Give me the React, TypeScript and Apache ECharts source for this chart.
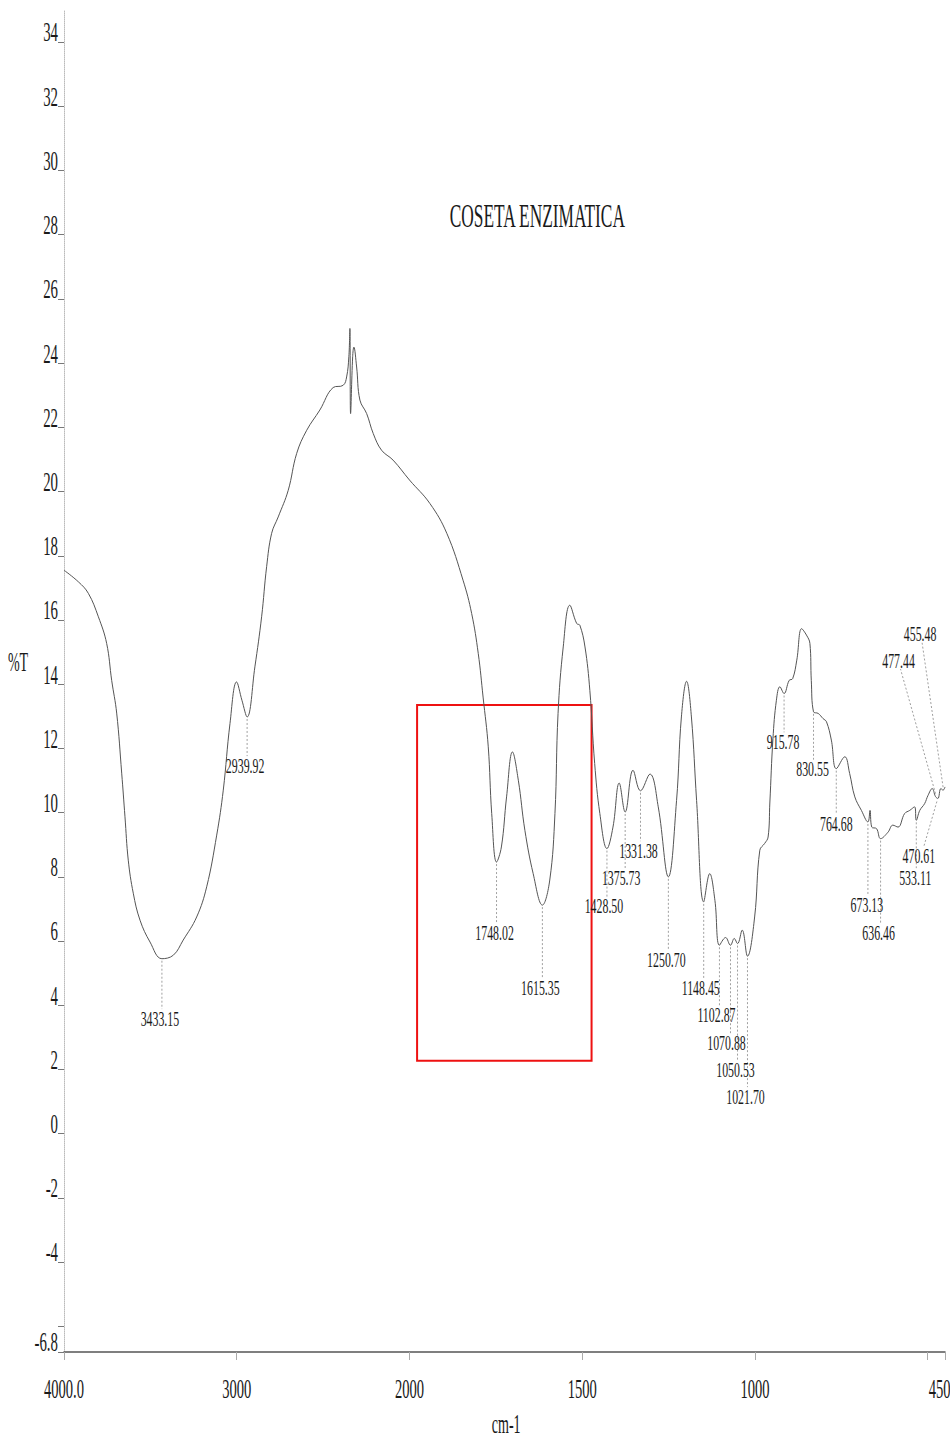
import React, { useEffect, useRef } from "react";
import * as echarts from "echarts";

// ---- spectrum (wavenumber in cm-1, %T) ----
const wavenumbers = [
  4000, 3917, 3859, 3801, 3753, 3724, 3695, 3666, 3647, 3628, 3599, 3560, 3502, 3433.15, 3367, 3310, 3232, 3174,
  3116, 3078, 3039, 3001, 2970, 2939.92, 2895, 2856, 2827, 2798, 2760, 2702, 2653, 2595, 2519, 2442, 2384, 2364,
  2351, 2345, 2341, 2329, 2322, 2306, 2287, 2248, 2210, 2162, 2095, 2000, 1941, 1892, 1845, 1820, 1801, 1787,
  1772, 1762, 1748.02, 1734, 1719, 1702, 1685, 1666, 1642, 1615.35, 1594, 1579, 1570, 1555, 1536, 1516, 1507, 1492,
  1478, 1464, 1449, 1428.5, 1411, 1393, 1375.73, 1353, 1331.38, 1304, 1280, 1250.7, 1227, 1213, 1198, 1184, 1169,
  1148.45, 1131, 1116, 1102.87, 1085, 1070.88, 1060, 1050.53, 1037, 1021.7, 1001, 986, 972, 962, 957, 948, 938, 928,
  915.78, 901, 891, 879, 865, 851, 841, 837, 830.55, 817, 803, 793, 779, 764.68, 740, 726, 711, 692, 673.13, 667,
  662, 648, 636.46, 615, 601, 586, 567, 552, 538, 533.11, 523, 509, 499, 487, 477.44, 470.61, 462, 455.48, 450,
];
const transmittance = [
  17.55, 17.19, 16.83, 16.1, 15.27, 14.12, 13.1, 11.23, 9.87, 8.52, 7.49, 6.65, 5.97, 5.45, 5.56, 6.03, 6.75, 7.69,
  9.3, 10.7, 12.78, 14.07, 13.5, 12.98, 14.54, 16.1, 17.66, 18.7, 19.21, 20.04, 21.19, 21.91, 22.54, 23.24, 23.31, 23.57,
  24.2, 25.08, 22.43, 24.2, 24.5, 23.88, 22.85, 22.43, 21.81, 21.29, 20.98, 20.36, 19.63, 18.7, 17.24, 16.2, 14.96, 13.6,
  12.05, 9.97, 8.46, 8.93, 10.49, 11.89, 11.01, 9.45, 8.1, 7.12, 7.9, 9.97, 13.09, 15.16, 16.46, 15.89, 15.84, 15.16,
  13.81, 11.53, 9.97, 8.88, 9.55, 10.92, 10.02, 11.32, 10.68, 11.2, 10.18, 8.0, 10.38, 12.98, 14.09, 12.98, 10.38,
  7.22, 8.1, 7.27, 5.87, 6.11, 5.87, 6.08, 5.92, 6.34, 5.53, 6.75, 8.83, 9.04, 9.24, 10.3, 12.3, 13.5, 13.92,
  13.71, 14.12, 14.17, 14.75, 15.73, 15.53, 15.27, 14.12, 13.14, 13.09, 12.93, 12.83, 12.26, 11.37, 11.74, 11.22, 10.49, 10.07, 9.71, 10.07,
  9.55, 9.5, 9.19, 9.39, 9.61, 9.55, 9.97, 10.07, 10.18, 9.76, 10.07, 10.28, 10.54, 10.75, 10.5, 10.44, 10.75, 10.7, 10.8,
];

// ---- annotated peaks ----
const peakWavenumbers = [
  3433.15, 2939.92, 1748.02, 1615.35, 1428.5, 1375.73, 1331.38, 1250.7, 1148.45, 1102.87, 1070.88, 1050.53, 1021.7,
  915.78, 830.55, 764.68, 673.13, 636.46, 533.11, 470.61, 477.44, 455.48,
];
// label level (in %T) where each peak label sits
const peakLabelLevels = [
  3.6, 11.48, 6.27, 4.56, 7.1, 7.99, 8.83, 5.43, 4.56, 3.72, 2.85, 2.01, 1.17, 12.22, 11.37, 9.67, 7.15, 6.27, 7.99,
  8.67, 14.75, 15.57,
];
// horizontal shift of each label (px)
const peakLabelShift = [-2, -2, -2, -2, -3, -4, -2, -2, -3, -3, -4, -2, -2, -1, -1, 0, -1, -2, -1, -19, -37, -23];

// ---- axes ----
const xTickValues = [4000, 3000, 2000, 1500, 1000, 450];
const xTickLabels = ["4000.0", "3000", "2000", "1500", "1000", "450.0"];
const yTickValues = [34, 32, 30, 28, 26, 24, 22, 20, 18, 16, 14, 12, 10, 8, 6, 4, 2, 0, -2, -4, -6.8];
const yMinorTicks = [-6];

// ---- highlighted region ----
const boxWavenumbers = [1978, 1473];
const boxTransmittance = [13.35, 2.27];

const titleText = "COSETA ENZIMATICA";
const yName = "%T";
const xName = "cm-1";

const SERIF = '"Liberation Serif", "Times New Roman", serif';

// the instrument's abscissa doubles its scale below 2000 cm-1
function axisPos(w: number): number {
  return w >= 2000 ? 4000 - w : 2000 + 2 * (2000 - w);
}

export default function App() {
  const ref = useRef<HTMLDivElement>(null);

  useEffect(() => {
    const el = ref.current;
    if (!el) return;
    const chart = echarts.init(el, null, { renderer: "svg" });
    const data = wavenumbers.map((w, i) => [axisPos(w), transmittance[i]]);

    chart.setOption({
      animation: false,
      backgroundColor: "#ffffff",
      grid: { left: 64, right: 5, top: 10, bottom: 87 },
      xAxis: {
        type: "value",
        min: 0,
        max: axisPos(450),
        interval: 1000,
        axisLine: { show: true, onZero: false, lineStyle: { color: "#555", width: 1.5 } },
        axisTick: { show: true, length: 8, lineStyle: { color: "#aaa" } },
        axisLabel: { show: false },
        splitLine: { show: false },
      },
      yAxis: {
        type: "value",
        min: -6.8,
        max: 35,
        axisLine: { show: true, onZero: false, lineStyle: { color: "#bbb", type: "dotted", width: 1 } },
        axisTick: {
          show: true,
          length: 6,
          customValues: [...yTickValues, ...yMinorTicks],
          lineStyle: { color: "#777" },
        },
        axisLabel: { show: false },
        splitLine: { show: false },
      },
      series: [
        {
          type: "line",
          data,
          showSymbol: false,
          smooth: 0.4,
          lineStyle: { color: "#555", width: 1 },
          silent: true,
          markArea: {
            silent: true,
            itemStyle: { color: "rgba(0,0,0,0)", borderColor: "#ee1111", borderWidth: 2 },
            data: [
              [
                { coord: [axisPos(boxWavenumbers[0]), boxTransmittance[0]] },
                { coord: [axisPos(boxWavenumbers[1]), boxTransmittance[1]] },
              ],
            ],
          },
        },
      ],
    });

    const toPx = (x: number, y: number) =>
      chart.convertToPixel({ xAxisIndex: 0, yAxisIndex: 0 }, [x, y]) as number[];

    const graphics: any[] = [];
    const txt = (text: string, x: number, y: number, size: number, sx: number, align: string) => ({
      type: "text",
      x,
      y,
      scaleX: sx,
      z: 100,
      silent: true,
      style: { text, fontFamily: SERIF, fontSize: size, fill: "#1a1a1a", align, verticalAlign: "middle" },
    });

    // y tick labels
    yTickValues.forEach((v) => {
      const [, py] = toPx(0, v);
      graphics.push(txt(String(v), 58, py - 10, 28, 0.53, "right"));
    });
    // x tick labels
    xTickValues.forEach((w, i) => {
      const [px, py] = toPx(axisPos(w), -6.8);
      graphics.push(txt(xTickLabels[i], px, py + 37, 28, 0.52, "center"));
    });
    // axis names & title
    const [tx] = toPx(axisPos(1630), 0);
    const [, ty] = toPx(0, 28.58);
    graphics.push(txt(titleText, tx, ty, 34, 0.51, "center"));
    const [, yny] = toPx(0, 14.7);
    graphics.push(txt(yName, 18, yny, 27, 0.52, "center"));
    const [xnx, xny] = toPx(axisPos(1720), -6.8);
    graphics.push(txt(xName, xnx, xny + 72, 27, 0.52, "center"));

    // peak labels with leader lines
    peakWavenumbers.forEach((w, i) => {
      const idx = wavenumbers.indexOf(w);
      const curveV = transmittance[idx];
      const [px, cy] = toPx(axisPos(w), curveV);
      const [, ly] = toPx(0, peakLabelLevels[i]);
      const lx = px + peakLabelShift[i];
      graphics.push(txt(w.toFixed(2), lx, ly, 22, 0.54, "center"));
      const below = peakLabelLevels[i] < curveV;
      let shape;
      if (Math.abs(peakLabelShift[i]) <= 4) {
        shape = { x1: px, y1: cy + 2, x2: px, y2: ly - 9 };
      } else if (below) {
        shape = { x1: px - 1, y1: cy + 3, x2: lx + 5, y2: ly - 9 };
      } else {
        shape = { x1: px, y1: cy - 3, x2: lx + 2, y2: ly + 9 };
      }
      graphics.push({
        type: "line",
        z: 90,
        silent: true,
        shape,
        style: { stroke: "#a0a0a0", lineWidth: 1, lineDash: [2, 2] },
      });
    });

    chart.setOption({ graphic: graphics });

    return () => chart.dispose();
  }, []);

  return (
    <div
      ref={ref}
      style={{ position: "fixed", left: 0, top: 0, width: 950, height: 1439, background: "#fff" }}
    />
  );
}
